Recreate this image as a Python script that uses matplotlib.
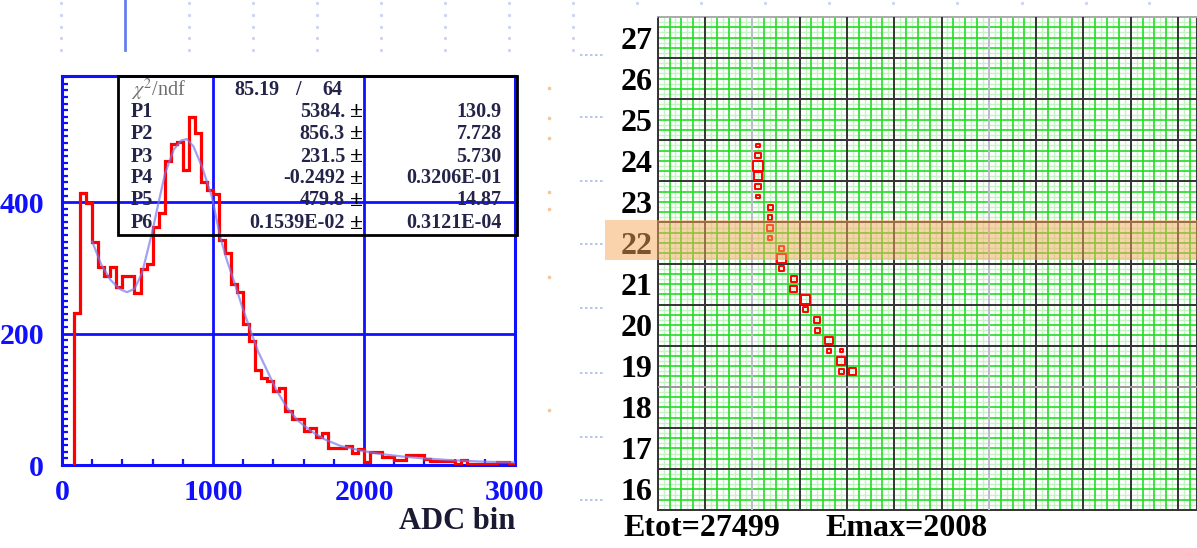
import numpy as np
import matplotlib
matplotlib.use('Agg')
import matplotlib.pyplot as plt
from matplotlib.patches import Rectangle
from matplotlib.lines import Line2D
from matplotlib import transforms

plt.rcParams['font.family'] = ['Liberation Serif', 'DejaVu Serif']
plt.rcParams['mathtext.fontset'] = 'stix'

# ---- left panel: ADC spectrum, 40-count bins from 80 to 3000
bin_lo = 80
bin_w = 40
hist_counts = [232, 414, 398, 339, 301, 288, 301, 271, 288, 288,
               261, 299, 306, 362, 383, 462, 488, 492, 449, 530,
               506, 431, 418, 413, 342, 322, 276, 263, 215, 189,
               144, 133, 128, 113, 117, 82, 70, 70, 52, 57,
               42, 49, 26, 26, 26, 29, 19, 24, 4, 20,
               20, 12, 12, 7, 7, 15, 15, 15, 9, 6,
               6, 6, 6, 1, 7, 1, 1, 1, 1, 1,
               5, 5, 1]
hist_edges = [bin_lo + bin_w * i for i in range(len(hist_counts) + 1)]

# fit curve
fit_x = [200, 260, 320, 380, 430, 480, 530, 595, 640, 683, 740, 790, 827, 870,
         927, 993, 1048, 1090, 1137, 1190, 1248, 1300, 1358, 1420, 1491, 1560,
         1646, 1740, 1845, 1977, 2100, 2250, 2400, 2600, 2800, 3000]
fit_y = [340, 305, 282, 268, 263, 268, 292, 352, 400, 444, 480, 494, 496, 485,
         454, 408, 347, 313, 281, 243, 205, 172, 144, 114, 87, 68,
         52, 39, 29, 22, 17, 13, 10, 7, 5, 4]

stat_names = ['P1', 'P2', 'P3', 'P4', 'P5', 'P6']
stat_vals = ['5384.', '856.3', '231.5', '-0.2492', '479.8', '0.1539E-02']
stat_errs = ['130.9', '7.728', '5.730', '0.3206E-01', '14.87', '0.3121E-04']
chi2, ndf = '85.19', '64'

# ---- right panel: calorimeter hit map
row_labels = list(range(16, 28))
hit_x = [2.125, 2.125, 2.125, 2.125, 2.125, 2.125, 2.375, 2.375, 2.375, 2.375,
         2.625, 2.625, 2.625, 2.875, 2.875, 3.125, 3.125, 3.375, 3.375, 3.625,
         3.625, 3.875, 3.875, 3.875, 4.125]
hit_y = [24.375, 24.125, 23.875, 23.625, 23.375, 23.125, 22.875, 22.625, 22.375, 22.125,
         21.875, 21.625, 21.375, 21.125, 20.875, 20.625, 20.375, 20.125, 19.875, 19.625,
         19.375, 19.375, 19.125, 18.875, 18.875]
hit_e = [0.35, 0.55, 1.0, 0.85, 0.55, 0.35, 0.5, 0.45, 0.6, 0.45,
         0.5, 0.9, 0.5, 0.6, 0.65, 0.95, 0.5, 0.6, 0.5, 0.75,
         0.35, 0.3, 0.8, 0.5, 0.7]
highlight_row = 22
etot, emax = 27499, 2008

W, H = 1197, 548
fig = plt.figure(figsize=(W / 100, H / 100), dpi=100)
fig.patch.set_facecolor('white')

blue = '#1010ff'
ax = fig.add_axes([62 / W, 1 - 465 / H, 453 / W, 389 / H])
ax.set_xlim(0, 3000)
ax.set_ylim(0, 592)
for s in ax.spines.values():
    s.set_color(blue)
    s.set_linewidth(2.2)
ax.set_xticks([0, 1000, 2000, 3000])
ax.set_yticks([0, 200, 400])
ax.set_xticks(np.arange(0, 3001, 200), minor=True)
ax.set_yticks(np.arange(0, 591, 10), minor=True)
ax.tick_params(which='major', length=0, colors=blue, labelsize=21.5)
ax.tick_params(axis='x', which='major', pad=10)
ax.tick_params(axis='y', which='major', pad=13)
ax.tick_params(which='minor', direction='in', length=4, width=1.6, color=blue)
for lab in ax.get_xticklabels() + ax.get_yticklabels():
    lab.set_fontweight('bold')
ax.grid(True, which='major', color=blue, linewidth=2)
ax.set_axisbelow(True)

ax.stairs(hist_counts, hist_edges, color='red', linewidth=2.3, zorder=3)
ax.plot(fit_x, fit_y, color='#7a7aee', linewidth=1.6, alpha=0.7, zorder=4)

ax.text(1.0, -0.145, 'ADC bin', transform=ax.transAxes, ha='right', va='center',
        fontsize=22, fontweight='bold', color='#1a1a33')

# stats box
ax.add_patch(Rectangle((0.1236, 0.591), 0.88, 0.409, transform=ax.transAxes,
                       fill=False, edgecolor='black', linewidth=2, zorder=5, clip_on=False))
txt = dict(transform=ax.transAxes, fontsize=14.5, fontweight='bold', color='#24244a',
           va='center', zorder=6)
ax.text(0.152, 0.964, r'$\chi^2$/ndf', transform=ax.transAxes, fontsize=14.5,
        color='#6e6e6e', va='center', zorder=6)
ax.text(0.481, 0.964, chi2, ha='right', **txt)
ax.text(0.521, 0.964, '/', ha='center', **txt)
ax.text(0.620, 0.964, ndf, ha='right', **txt)
row_y = [0.908, 0.851, 0.792, 0.737, 0.681, 0.621]
for yy, n, v, e in zip(row_y, stat_names, stat_vals, stat_errs):
    ax.text(0.152, yy, n, ha='left', **txt)
    ax.text(0.625, yy, v, ha='right', **txt)
    ax.text(0.650, yy, '±', ha='center', transform=ax.transAxes, fontsize=17,
            fontweight='bold', color='black', va='center', zorder=6)
    ax.text(0.971, yy, e, ha='right', **txt)

# ---- right panel
ax2 = fig.add_axes([657.7 / W, 1 - 510 / H, (W - 657.7) / W, 493 / H])
ax2.set_xlim(0, 11.4)
ax2.set_ylim(15.5, 27.5)
light = [2, 7]
for i in np.arange(0, 11.5, 0.125):
    frac = round((i % 1) / 0.125)
    if frac == 0:
        continue
    if frac % 2 == 0:
        ax2.axvline(i, color='#22dd22', linewidth=1.2, zorder=2)
    else:
        ax2.axvline(i, color='#c6f3c6', linewidth=1.0, zorder=1)
for j in np.arange(15.5, 27.5, 0.125):
    frac = round(((j - 15.5) % 1) / 0.125)
    if frac == 0:
        continue
    if frac % 2 == 0:
        ax2.axhline(j, color='#22dd22', linewidth=1.2, zorder=2)
    else:
        ax2.axhline(j, color='#c6f3c6', linewidth=1.0, zorder=1)
for k in range(0, 12):
    ax2.axvline(k, color='#bbbbcc' if k in light else '#333333', linewidth=1.4, zorder=3)
for j in np.arange(16.5, 27.5, 1.0):
    ax2.axhline(j, color='#999999' if j == 18.5 else '#333333', linewidth=1.4, zorder=3)

ax2.set_yticks(row_labels)
ax2.set_yticklabels([str(r) for r in row_labels], fontsize=23, fontweight='bold')
ax2.tick_params(axis='y', length=0, pad=4)
ax2.set_xticks([])
for s in ax2.spines.values():
    s.set_color('#333333')
    s.set_linewidth(1.4)
ax2.spines['top'].set_color('#aaaaaa')

band_tr = transforms.blended_transform_factory(fig.transFigure, ax2.transData)
fig.add_artist(Rectangle((605 / W, highlight_row - 0.42), 1 - 605 / W, 0.98,
                         transform=band_tr, facecolor='#f7a85c', alpha=0.5,
                         edgecolor='none', zorder=10))

sizes = [(e * 10 * 0.72) ** 2 for e in hit_e]
ax2.scatter(hit_x, hit_y, s=sizes, marker='s', facecolors='none', edgecolors='red',
            linewidths=1.4, zorder=5)

fig.text(623 / W, 1 - 529 / H, f'Etot={etot}', fontsize=23, fontweight='bold',
         va='center', ha='left')
fig.text(825 / W, 1 - 529 / H, f'Emax={emax}', fontsize=23, fontweight='bold',
         va='center', ha='left')

# slide decorations around the charts
fig.add_artist(Line2D([125 / W, 125 / W], [1, 1 - 50 / H], color='#6680ee', linewidth=2))
for xx in [61, 189, 253, 317, 381, 445, 509, 573]:
    for yy in [3, 14.5, 27, 38, 50]:
        fig.add_artist(Line2D([xx / W], [1 - yy / H], marker='s', markersize=1.2,
                              color='#ccd6f4', linestyle='none'))
for xx in [637, 701, 765, 829, 893, 957, 1022, 1086, 1149]:
    fig.add_artist(Line2D([xx / W], [1 - 3 / H], marker='s', markersize=1.2,
                          color='#ccd6f4', linestyle='none'))
for yy in [55, 117, 181, 244, 308, 373, 437, 500]:
    fig.add_artist(Line2D([580 / W, 603 / W], [1 - yy / H, 1 - yy / H], color='#aabbee',
                          linewidth=1.2, linestyle=(0, (1.5, 1.5))))
for yy in [88, 118, 138, 192, 209, 277, 410]:
    fig.add_artist(Line2D([549 / W], [1 - yy / H], marker='s', markersize=2,
                          color='#f4c89a', linestyle='none'))

fig.savefig('out.png', dpi=100, facecolor=fig.get_facecolor())
